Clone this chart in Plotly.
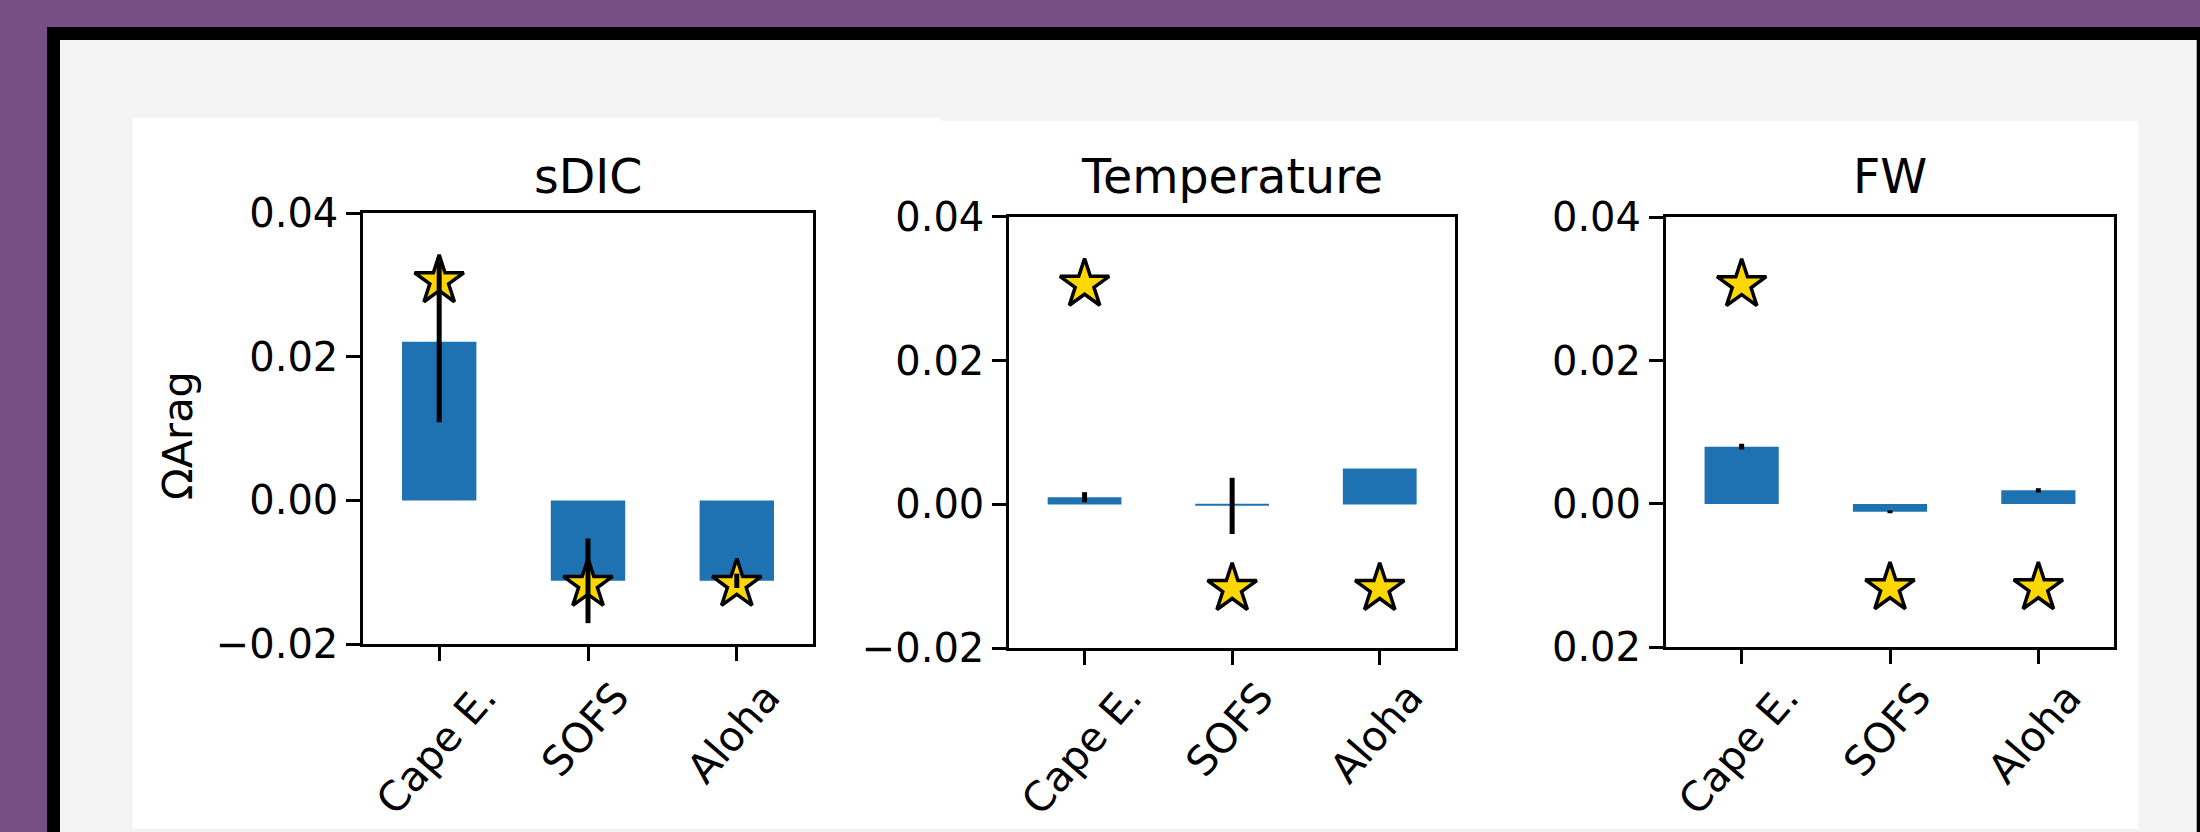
import plotly.graph_objects as go

# ---------------- data ----------------
categories = ["Cape E.", "SOFS", "Aloha"]
panel_titles = ["sDIC", "Temperature", "FW"]

sdic_vals = [0.0221, -0.0112, -0.0112]
sdic_err = [0.0112, 0.0059, 0.0010]
temp_vals = [0.0010, -0.0002, 0.0050]
temp_err = [0.0007, 0.0039, 0.0]
fw_vals = [0.0080, -0.0011, 0.0019]
fw_err = [0.0004, 0.0002, 0.0003]
star_vals = [0.0306, -0.0117, -0.0117]

ytick_vals = [-0.02, 0.0, 0.02, 0.04]
ytick_text = ["\u22120.02", "0.00", "0.02", "0.04"]
fw_ytick_text = ["0.02", "0.00", "0.02", "0.04"]
y_label = "\u03a9Arag"

# ---------------- styling / layout helpers ----------------
W, H = 2200, 832
PURPLE = "#784f85"
GREY = "#f4f4f4"
BLUE = "#1f72b2"
GOLD = "#ffd700"
FONT = "DejaVu Sans"
TICK_FS = 40
XLABEL_FS = 41
TITLE_FS = 47.5


def fx(px):
    return px / W


def fy(py):
    return 1 - py / H


# pixel boxes of the three axes: (left, right, top, bottom)
boxes = [
    (363.3, 812.7, 213.3, 644.0),
    (1009.3, 1455.0, 216.7, 648.3),
    (1666.0, 2114.0, 217.3, 647.3),
]

values = [sdic_vals, temp_vals, fw_vals]
errors = [sdic_err, temp_err, fw_err]
tick_texts = [ytick_text, ytick_text, fw_ytick_text]

fig = go.Figure()
annotations = []
layout_axes = {}

for i in range(3):
    xa = "x" if i == 0 else f"x{i + 1}"
    ya = "y" if i == 0 else f"y{i + 1}"
    xkey = "xaxis" if i == 0 else f"xaxis{i + 1}"
    ykey = "yaxis" if i == 0 else f"yaxis{i + 1}"
    l, r, t, b = boxes[i]
    xs = list(range(len(categories)))

    fig.add_trace(go.Bar(
        x=xs, y=values[i], width=0.5, marker=dict(color=BLUE, line=dict(width=0)),
        xaxis=xa, yaxis=ya, showlegend=False,
    ))
    fig.add_trace(go.Scatter(
        x=xs, y=star_vals, mode="markers", xaxis=xa, yaxis=ya, showlegend=False,
        marker=dict(symbol="star", size=37, color=GOLD, line=dict(color="black", width=3.5)),
        cliponaxis=False,
    ))
    fig.add_trace(go.Scatter(
        x=xs, y=values[i], mode="markers", xaxis=xa, yaxis=ya, showlegend=False,
        marker=dict(size=1, color="rgba(0,0,0,0)"),
        error_y=dict(type="data", array=errors[i], visible=True, color="black",
                     thickness=5, width=0),
        cliponaxis=False,
    ))

    layout_axes[xkey] = dict(
        domain=[fx(l), fx(r)], anchor=ya, range=[-0.51, 2.51], automargin=False,
        showgrid=False, zeroline=False, showline=True, mirror=True,
        linecolor="black", linewidth=3, ticks="outside", ticklen=14, tickwidth=3,
        tickcolor="black", tickvals=xs, showticklabels=False, fixedrange=True,
    )
    layout_axes[ykey] = dict(
        domain=[fy(b), fy(t)], anchor=xa, range=[-0.02, 0.04], automargin=False,
        showgrid=False, zeroline=False, showline=True, mirror=True,
        linecolor="black", linewidth=3, ticks="outside", ticklen=14, tickwidth=3,
        tickcolor="black", tickvals=ytick_vals, ticktext=tick_texts[i],
        tickfont=dict(family=FONT, size=TICK_FS, color="black"), fixedrange=True,
    )

    # title
    annotations.append(dict(
        text=panel_titles[i], xref="paper", yref="paper", x=fx((l + r) / 2), y=fy(177),
        xanchor="center", yanchor="middle", showarrow=False,
        font=dict(family=FONT, size=TITLE_FS, color="black"),
    ))
    # rotated category labels
    for j, c in enumerate(categories):
        annotations.append(dict(
            text=c, xref=xa, yref="paper", x=j, y=fy(671), xshift=-3,
            xanchor="center", yanchor="top", textangle=-49, showarrow=False,
            font=dict(family=FONT, size=XLABEL_FS, color="black"),
        ))

annotations.append(dict(
    text=y_label, xref="paper", yref="paper", x=fx(177), y=fy(436),
    xanchor="center", yanchor="middle", textangle=-90, showarrow=False,
    font=dict(family=FONT, size=41.5, color="black"),
))

shapes = [
    dict(type="rect", xref="paper", yref="paper", x0=fx(47), x1=fx(2210), y0=fy(27), y1=fy(840),
         fillcolor="black", line=dict(width=0), layer="below"),
    dict(type="rect", xref="paper", yref="paper", x0=fx(60), x1=fx(2196.7), y0=fy(40), y1=fy(840),
         fillcolor=GREY, line=dict(width=0), layer="below"),
    dict(type="rect", xref="paper", yref="paper", x0=fx(132.7), x1=fx(940), y0=fy(117.7), y1=fy(828.7),
         fillcolor="white", line=dict(width=0), layer="below"),
    dict(type="rect", xref="paper", yref="paper", x0=fx(940), x1=fx(2138.3), y0=fy(120.7), y1=fy(828.7),
         fillcolor="white", line=dict(width=0), layer="below"),
]

fig.update_layout(
    template="none",
    width=W, height=H, autosize=False,
    margin=dict(l=0, r=0, t=0, b=0, pad=0, autoexpand=False),
    paper_bgcolor=PURPLE, plot_bgcolor="white",
    font=dict(family=FONT, color="black"),
    annotations=annotations, shapes=shapes, showlegend=False,
    **layout_axes,
)

page_fix = (
    "document.documentElement.style.margin='0';"
    "document.documentElement.style.padding='0';"
    "document.documentElement.style.overflow='hidden';"
    "document.body.style.margin='0';"
    "document.body.style.padding='0';"
    "document.body.style.overflow='hidden';"
)

fig.write_html("out.html", config={"displayModeBar": False}, post_script=page_fix)
